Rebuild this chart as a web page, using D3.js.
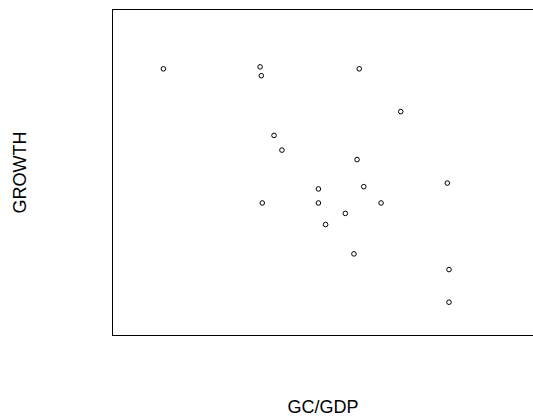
<!DOCTYPE html>
<html>
<head>
<meta charset="utf-8">
<script src="https://cdn.jsdelivr.net/npm/d3@7"></script>
<style>
  html, body { margin: 0; padding: 0; background: #fff; }
  svg { display: block; }
</style>
</head>
<body>
<svg id="chart" width="533" height="420"></svg>
<script>
// Government consumption share of GDP (%) against growth rate (%)
const gcGdp = [6.12, 10.15, 10.20, 14.28, 16.01, 10.73, 11.06, 14.19, 17.95, 12.58,
               14.47, 10.24, 12.58, 15.19, 13.70, 12.88, 14.06, 18.02, 18.02];
const growth = [5.17, 5.23, 4.96, 5.17, 3.86, 3.13, 2.68, 2.39, 1.67, 1.49,
                1.56, 1.06, 1.06, 1.06, 0.74, 0.40, -0.50, -0.98, -1.98];
const xLabel = "GC/GDP";
const yLabel = "GROWTH";

const svg = d3.select("#chart");
const W = 533, H = 420;
const plot = { left: 112.5, top: 9.5, bottom: 335.5, right: 544.5 };

const x = d3.scaleLinear().domain([4, 22]).range([plot.left, plot.right]);
const y = d3.scaleLinear().domain([-3, 7]).range([plot.bottom, plot.bottom - 326.4]);

// plot frame (runs off the right edge of the canvas)
svg.append("rect")
  .attr("x", plot.left)
  .attr("y", plot.top)
  .attr("width", plot.right - plot.left)
  .attr("height", plot.bottom - plot.top)
  .attr("fill", "none")
  .attr("stroke", "#000")
  .attr("stroke-width", 1);

const pts = gcGdp.map((v, i) => ({ x: v, y: growth[i] }));

svg.append("g")
  .selectAll("circle")
  .data(pts)
  .enter()
  .append("circle")
  .attr("cx", d => x(d.x))
  .attr("cy", d => y(d.y))
  .attr("r", 2.3)
  .attr("fill", "none")
  .attr("stroke", "#000")
  .attr("stroke-width", 1);

svg.append("text")
  .attr("x", 323)
  .attr("y", 412.5)
  .attr("text-anchor", "middle")
  .attr("font-family", "Liberation Sans, Arial, sans-serif")
  .attr("font-size", 18)
  .attr("fill", "#000")
  .text(xLabel);

svg.append("text")
  .attr("transform", "translate(26,172.5) rotate(-90)")
  .attr("text-anchor", "middle")
  .attr("font-family", "Liberation Sans, Arial, sans-serif")
  .attr("font-size", 18)
  .attr("fill", "#000")
  .text(yLabel);
</script>
</body>
</html>
